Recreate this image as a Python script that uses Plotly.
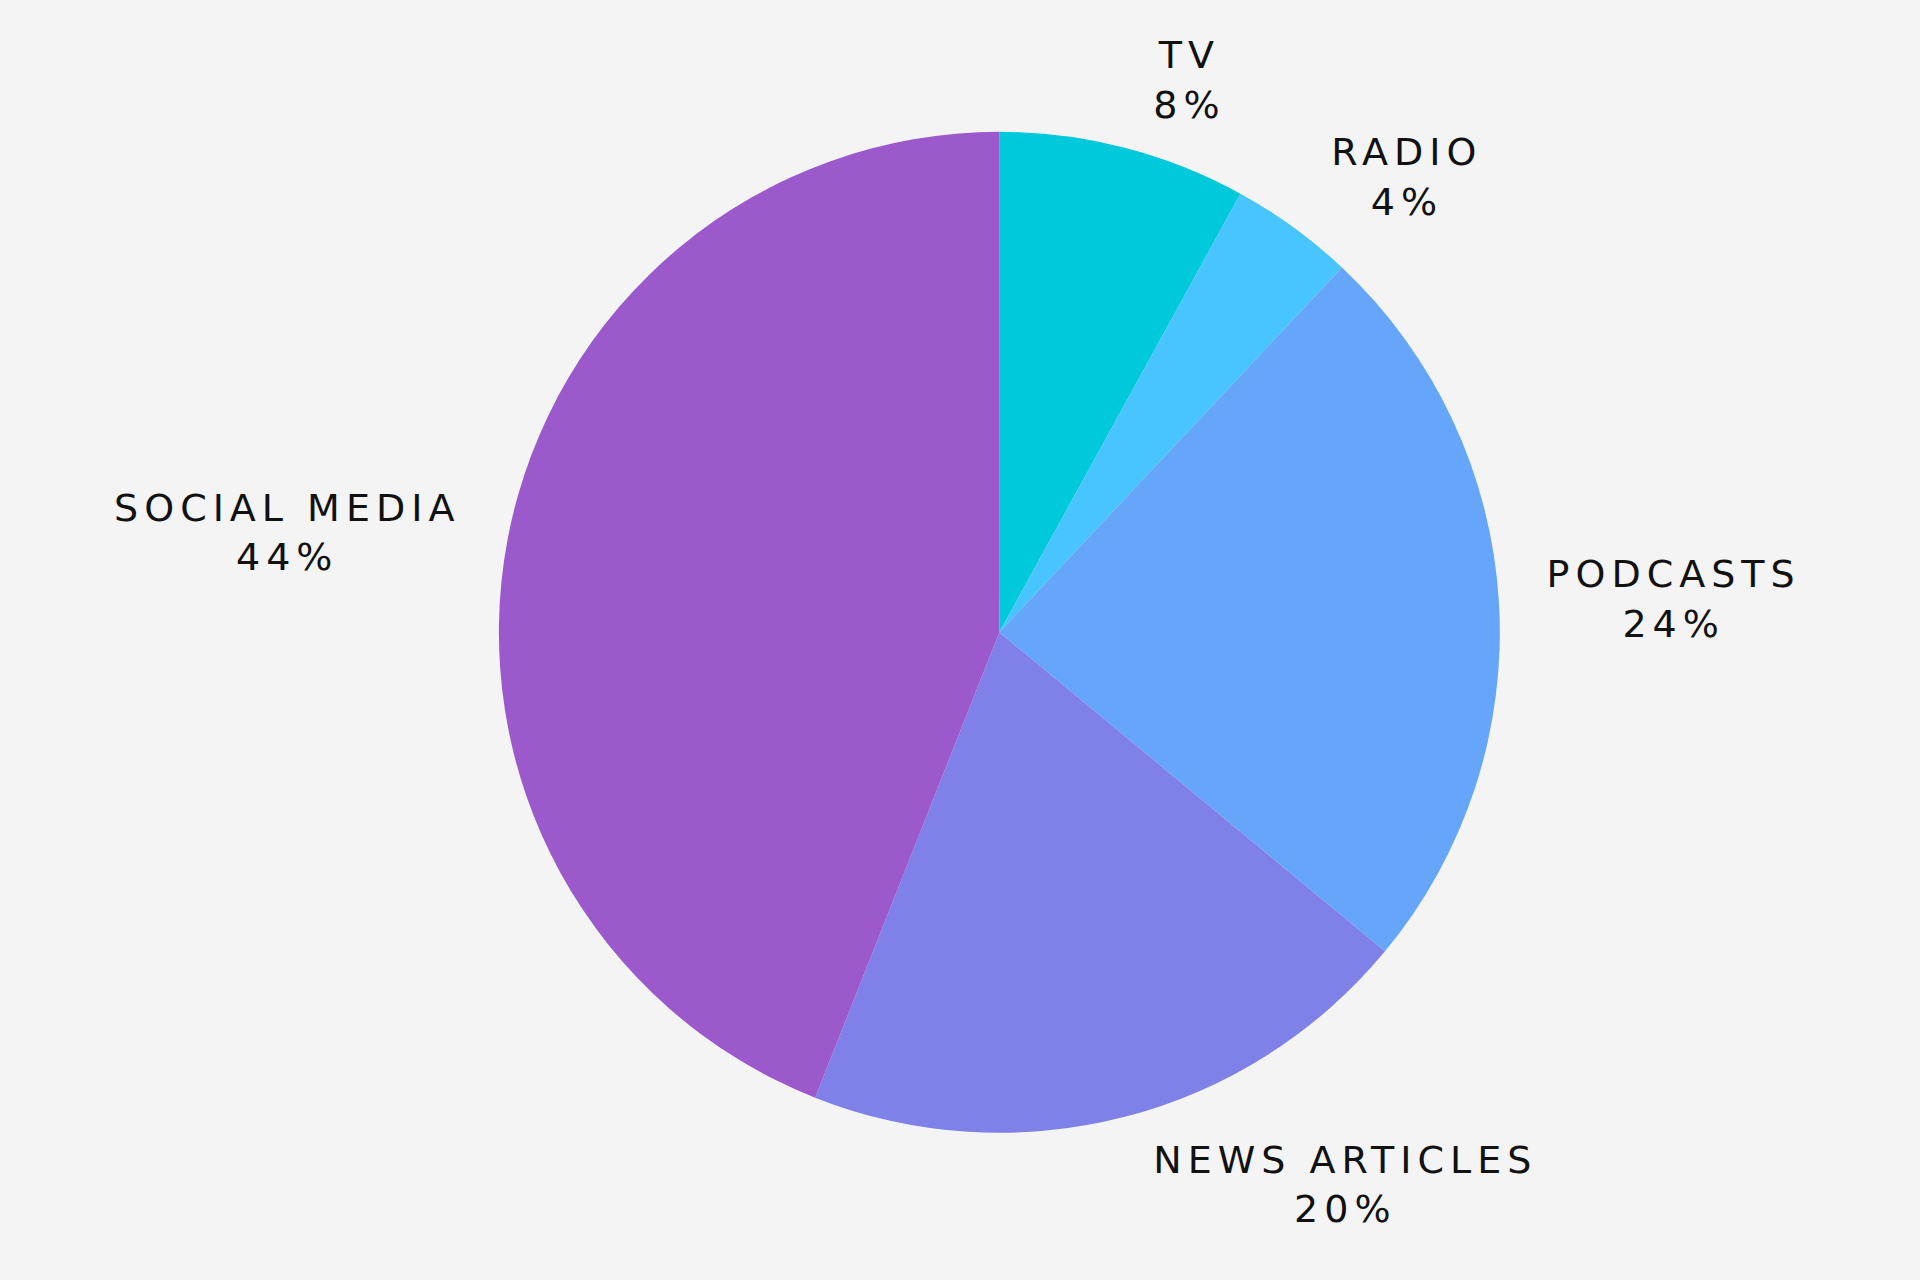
import plotly.graph_objects as go

SOURCES = ["TV", "RADIO", "PODCASTS", "NEWS ARTICLES", "SOCIAL MEDIA"]
SHARES = [8, 4, 24, 20, 44]
SOURCE_COLORS = ["#00c9db", "#48c4fe", "#66a6fa", "#7f80e8", "#9b59cc"]

LABEL_SIZE = 38
CENTER_X, CENTER_Y = 0.5205, 0.506
PIE_R = (0.2608, 0.391)      # half sizes of the pie domain (x, y), radius ~500px
LABEL_R = (0.2734, 0.4102)   # slightly bigger invisible pie that carries the labels


def domain(half):
    return {
        "x": [CENTER_X - half[0], CENTER_X + half[0]],
        "y": [CENTER_Y - half[1], CENTER_Y + half[1]],
    }


figure = go.Figure()
figure.add_trace(
    go.Pie(
        labels=SOURCES,
        values=SHARES,
        sort=False,
        direction="clockwise",
        marker={"colors": SOURCE_COLORS, "line": {"width": 0}},
        textinfo="none",
        showlegend=False,
        hoverinfo="skip",
        domain=domain(PIE_R),
    )
)
figure.add_trace(
    go.Pie(
        labels=SOURCES,
        values=SHARES,
        sort=False,
        direction="clockwise",
        marker={"colors": ["rgba(0,0,0,0)"] * len(SOURCES), "line": {"width": 0}},
        textposition="outside",
        texttemplate="%{label}<br>%{percent:.0%}",
        textfont={"family": "DejaVu Sans", "size": LABEL_SIZE - 0.01, "color": "#111111"},
        showlegend=False,
        hoverinfo="skip",
        domain=domain(LABEL_R),
    )
)

figure.update_layout(
    width=1920,
    height=1280,
    margin={"l": 0, "r": 0, "t": 0, "b": 0},
    paper_bgcolor="#f4f4f4",
    plot_bgcolor="#f4f4f4",
)

# wide label lettering like the original; restyle afterwards so plotly re-measures the text
post_script = (
    "var s = document.createElement('style');"
    "s.textContent = 'body{margin:0;background:#f4f4f4} svg text{letter-spacing:6px} path.textline{display:none}';"
    "document.head.appendChild(s);"
    f"Plotly.restyle('{{plot_id}}', {{'textfont.size': {LABEL_SIZE}}}, [1]);"
)

figure.write_html("out.html", post_script=post_script, config={"displayModeBar": False})
